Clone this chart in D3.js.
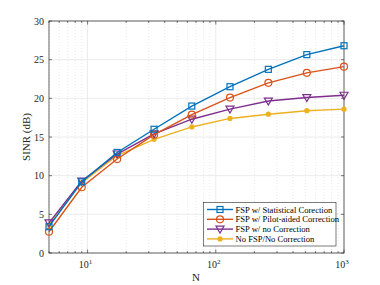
<!DOCTYPE html>
<html><head><meta charset="utf-8">
<script src="https://cdn.jsdelivr.net/npm/d3@7"></script>
<style>body{margin:0;background:#fff}svg{display:block}</style>
</head><body>
<script>
const N = [5, 9, 17, 33, 65, 129, 257, 513, 1000];
const statCorr = [3.4, 9.2, 13.0, 16.0, 19.0, 21.5, 23.75, 25.65, 26.8];
const pilotCorr = [2.75, 8.5, 12.15, 15.3, 17.9, 20.1, 22.0, 23.3, 24.1];
const noCorr = [3.9, 9.3, 12.8, 15.4, 17.3, 18.6, 19.65, 20.1, 20.4];
const noFSP = [3.6, 9.1, 12.6, 14.7, 16.3, 17.4, 17.95, 18.4, 18.6];
const seriesNames = ["FSP w/ Statistical Corection", "FSP w/ Pilot-aided Correction", "FSP w/ no Correction", "No FSP/No Correction"];
const yTicks = [0, 5, 10, 15, 20, 25, 30];
const xTicks = [10, 100, 1000];

const W = 380, H = 285;
const m = {l: 49, t: 21, r: 344, b: 253};
const svg = d3.select("body").append("svg").attr("width", W).attr("height", H)
  .style("font-family", "'Liberation Serif','Times New Roman',serif");

const x = d3.scaleLog().domain([5, 1000]).range([m.l, m.r]);
const y = d3.scaleLinear().domain([0, 30]).range([m.b, m.t]);

// grid
const minorX = [];
for (let d = 1; d <= 100; d *= 10) for (let k = 1; k < 10; k++) { const v = k * d; if (v >= 5 && v <= 1000 && k !== 1) minorX.push(v); }
const g = svg.append("g");
g.selectAll(".mgx").data(minorX).enter().append("line")
  .attr("x1", d => x(d)).attr("x2", d => x(d)).attr("y1", m.t).attr("y2", m.b)
  .attr("stroke", "#d8d8d8").attr("stroke-width", 0.6).attr("stroke-dasharray", "1,2");
g.selectAll(".gx").data(xTicks).enter().append("line")
  .attr("x1", d => x(d)).attr("x2", d => x(d)).attr("y1", m.t).attr("y2", m.b)
  .attr("stroke", "#e6e6e6").attr("stroke-width", 0.8);
g.selectAll(".gy").data(yTicks).enter().append("line")
  .attr("x1", m.l).attr("x2", m.r).attr("y1", d => y(d)).attr("y2", d => y(d))
  .attr("stroke", "#e6e6e6").attr("stroke-width", 0.8);

// frame
svg.append("rect").attr("x", m.l).attr("y", m.t).attr("width", m.r - m.l).attr("height", m.b - m.t)
  .attr("fill", "none").attr("stroke", "#262626").attr("stroke-width", 0.7);

// ticks inside
const tk = svg.append("g").attr("stroke", "#262626").attr("stroke-width", 0.6);
yTicks.forEach(v => {
  tk.append("line").attr("x1", m.l).attr("x2", m.l + 3).attr("y1", y(v)).attr("y2", y(v));
  tk.append("line").attr("x1", m.r).attr("x2", m.r - 3).attr("y1", y(v)).attr("y2", y(v));
});
minorX.forEach(v => {
  tk.append("line").attr("x1", x(v)).attr("x2", x(v)).attr("y1", m.b).attr("y2", m.b - 2);
  tk.append("line").attr("x1", x(v)).attr("x2", x(v)).attr("y1", m.t).attr("y2", m.t + 2);
});
xTicks.forEach(v => {
  tk.append("line").attr("x1", x(v)).attr("x2", x(v)).attr("y1", m.b).attr("y2", m.b - 3.5);
  tk.append("line").attr("x1", x(v)).attr("x2", x(v)).attr("y1", m.t).attr("y2", m.t + 3.5);
});

// tick labels
svg.selectAll(".yl").data(yTicks).enter().append("text")
  .attr("x", m.l - 5).attr("y", d => y(d) + 3.5).attr("text-anchor", "end")
  .attr("font-size", 10).attr("fill", "#262626").text(d => d);
xTicks.forEach(v => {
  const t = svg.append("text").attr("x", x(v) - 2).attr("y", 268).attr("text-anchor", "middle")
    .attr("font-size", 10).attr("fill", "#262626");
  t.append("tspan").text("10");
  t.append("tspan").attr("dy", -4).attr("font-size", 7).text(Math.round(Math.log10(v)));
});

// axis labels
svg.append("text").attr("x", 196).attr("y", 281).attr("text-anchor", "middle")
  .attr("font-size", 11).attr("fill", "#262626").text("N");
svg.append("text").attr("transform", `translate(30,${(m.t + m.b) / 2}) rotate(-90)`)
  .attr("text-anchor", "middle").attr("font-size", 11).attr("fill", "#262626").text("SINR (dB)");

const colors = ["#0072BD", "#D95319", "#7E2F8E", "#EDB120"];
const allData = [statCorr, pilotCorr, noCorr, noFSP];
const markers = ["square", "circle", "tri", "dot"];

function drawMarker(sel, type, c, cx, cy) {
  if (type === "square") sel.append("rect").attr("x", cx - 3).attr("y", cy - 3).attr("width", 6).attr("height", 6)
    .attr("fill", "none").attr("stroke", c).attr("stroke-width", 1.2);
  else if (type === "circle") sel.append("circle").attr("cx", cx).attr("cy", cy).attr("r", 3.5)
    .attr("fill", "none").attr("stroke", c).attr("stroke-width", 1.2);
  else if (type === "tri") sel.append("path")
    .attr("d", `M${cx - 4},${cy - 3}L${cx + 4},${cy - 3}L${cx},${cy + 4}Z`)
    .attr("fill", "none").attr("stroke", c).attr("stroke-width", 1.2);
  else sel.append("circle").attr("cx", cx).attr("cy", cy).attr("r", 2.6).attr("fill", c);
}

const line = d3.line().x(d => x(d[0])).y(d => y(d[1]));
// draw in reverse so blue on top
[3, 2, 1, 0].forEach(i => {
  const pts = N.map((n, j) => [n, allData[i][j]]);
  const gs = svg.append("g");
  gs.append("path").attr("d", line(pts)).attr("fill", "none").attr("stroke", colors[i]).attr("stroke-width", 1.4);
  pts.forEach(p => drawMarker(gs, markers[i], colors[i], x(p[0]), y(p[1])));
});

// legend
const lg = svg.append("g");
lg.append("rect").attr("x", 203.5).attr("y", 202.5).attr("width", 132.5).attr("height", 43.5)
  .attr("fill", "#fff").attr("stroke", "#262626").attr("stroke-width", 0.6);
seriesNames.forEach((s, i) => {
  const yy = 209.5 + i * 9.8;
  lg.append("line").attr("x1", 207).attr("x2", 233).attr("y1", yy).attr("y2", yy)
    .attr("stroke", colors[i]).attr("stroke-width", 1.4);
  drawMarker(lg, markers[i], colors[i], 220, yy);
  lg.append("text").attr("x", 235.5).attr("y", yy + 3).attr("font-size", 8.6).attr("fill", "#000").text(s);
});
</script>
</body></html>
